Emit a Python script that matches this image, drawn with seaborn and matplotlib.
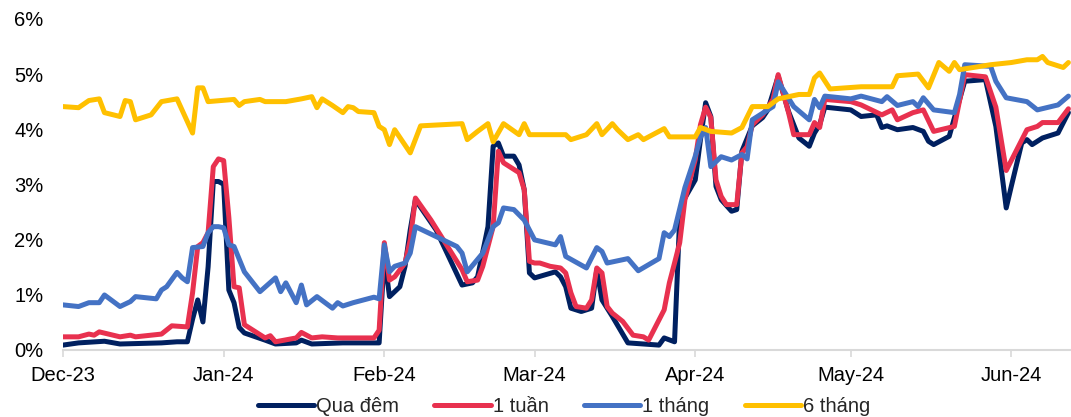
import matplotlib
matplotlib.use("Agg")
import matplotlib.pyplot as plt
import matplotlib.dates as mdates
from matplotlib.ticker import PercentFormatter
import pandas as pd
import seaborn as sns

# Interbank lending rates (%), by tenor
on_dates = [
    "2023-12-01", "2023-12-04", "2023-12-09", "2023-12-12", "2023-12-20", "2023-12-23",
    "2023-12-25", "2023-12-26", "2023-12-27", "2023-12-28", "2023-12-29", "2023-12-30",
    "2023-12-31", "2024-01-01", "2024-01-02", "2024-01-03", "2024-01-04", "2024-01-05",
    "2024-01-09", "2024-01-11", "2024-01-15", "2024-01-16", "2024-01-18", "2024-01-24",
    "2024-01-31", "2024-02-01", "2024-02-02", "2024-02-03", "2024-02-04", "2024-02-05",
    "2024-02-06", "2024-02-07", "2024-02-11", "2024-02-16", "2024-02-18", "2024-02-19",
    "2024-02-21", "2024-02-22", "2024-02-23", "2024-02-24", "2024-02-26", "2024-02-27",
    "2024-02-28", "2024-02-29", "2024-03-01", "2024-03-05", "2024-03-06", "2024-03-07",
    "2024-03-08", "2024-03-10", "2024-03-12", "2024-03-13", "2024-03-14", "2024-03-16",
    "2024-03-19", "2024-03-25", "2024-03-26", "2024-03-28", "2024-03-29", "2024-03-30",
    "2024-04-01", "2024-04-02", "2024-04-03", "2024-04-04", "2024-04-05", "2024-04-06",
    "2024-04-08", "2024-04-09", "2024-04-10", "2024-04-12", "2024-04-14", "2024-04-15",
    "2024-04-17", "2024-04-19", "2024-04-21", "2024-04-23", "2024-04-24", "2024-04-25",
    "2024-04-26", "2024-05-01", "2024-05-03", "2024-05-06", "2024-05-07", "2024-05-08",
    "2024-05-10", "2024-05-13", "2024-05-15", "2024-05-16", "2024-05-17", "2024-05-20",
    "2024-05-23", "2024-05-27", "2024-05-29", "2024-05-31", "2024-06-01", "2024-06-03",
    "2024-06-04", "2024-06-05", "2024-06-07", "2024-06-10", "2024-06-12",
]
on_rates = [
    0.08, 0.12, 0.15, 0.10, 0.12, 0.14,
    0.14, 0.55, 0.90, 0.50, 1.50, 3.05,
    3.05, 3.00, 1.08, 0.85, 0.40, 0.30,
    0.17, 0.10, 0.12, 0.17, 0.10, 0.12,
    0.12, 1.69, 0.96, 1.05, 1.14, 1.51,
    2.17, 2.72, 2.17, 1.17, 1.21, 1.32,
    2.23, 3.69, 3.75, 3.51, 3.51, 3.35,
    2.90, 1.39, 1.30, 1.41, 1.32, 1.14,
    0.75, 0.69, 0.75, 1.45, 0.90, 0.60,
    0.12, 0.08, 0.21, 0.14, 2.41, 2.75,
    3.08, 3.81, 4.48, 4.23, 2.96, 2.72,
    2.51, 2.54, 3.60, 4.06, 4.21, 4.35,
    4.96, 4.32, 3.84, 3.69, 3.93, 4.08,
    4.40, 4.35, 4.23, 4.26, 4.03, 4.06,
    3.99, 4.03, 3.96, 3.78, 3.72, 3.87,
    4.87, 4.90, 4.05, 2.57, 2.97, 3.75,
    3.81, 3.72, 3.84, 3.93, 4.30,
]

w1_dates = [
    "2023-12-01", "2023-12-04", "2023-12-06", "2023-12-07", "2023-12-08", "2023-12-12",
    "2023-12-14", "2023-12-15", "2023-12-20", "2023-12-22", "2023-12-25", "2023-12-26",
    "2023-12-27", "2023-12-28", "2023-12-29", "2023-12-30", "2023-12-31", "2024-01-01",
    "2024-01-02", "2024-01-03", "2024-01-04", "2024-01-05", "2024-01-09", "2024-01-10",
    "2024-01-11", "2024-01-15", "2024-01-16", "2024-01-18", "2024-01-20", "2024-01-23",
    "2024-01-30", "2024-01-31", "2024-02-01", "2024-02-02", "2024-02-03", "2024-02-05",
    "2024-02-06", "2024-02-07", "2024-02-10", "2024-02-16", "2024-02-17", "2024-02-19",
    "2024-02-20", "2024-02-22", "2024-02-23", "2024-02-24", "2024-02-27", "2024-02-28",
    "2024-02-29", "2024-03-01", "2024-03-02", "2024-03-04", "2024-03-06", "2024-03-07",
    "2024-03-08", "2024-03-09", "2024-03-11", "2024-03-12", "2024-03-13", "2024-03-14",
    "2024-03-15", "2024-03-16", "2024-03-18", "2024-03-20", "2024-03-22", "2024-03-23",
    "2024-03-26", "2024-03-27", "2024-03-28", "2024-03-29", "2024-03-30", "2024-04-01",
    "2024-04-02", "2024-04-03", "2024-04-04", "2024-04-05", "2024-04-06", "2024-04-07",
    "2024-04-09", "2024-04-10", "2024-04-11", "2024-04-12", "2024-04-14", "2024-04-16",
    "2024-04-17", "2024-04-19", "2024-04-20", "2024-04-23", "2024-04-24", "2024-04-25",
    "2024-04-26", "2024-05-01", "2024-05-03", "2024-05-07", "2024-05-09", "2024-05-10",
    "2024-05-13", "2024-05-15", "2024-05-17", "2024-05-21", "2024-05-23", "2024-05-27",
    "2024-05-29", "2024-05-31", "2024-06-04", "2024-06-06", "2024-06-07", "2024-06-10",
    "2024-06-12",
]
w1_rates = [
    0.23, 0.23, 0.28, 0.26, 0.32, 0.23,
    0.26, 0.23, 0.28, 0.43, 0.41, 1.03,
    1.87, 1.94, 2.12, 3.32, 3.46, 3.43,
    2.40, 1.14, 1.12, 0.45, 0.21, 0.25,
    0.14, 0.21, 0.31, 0.21, 0.23, 0.21,
    0.21, 0.35, 1.94, 1.26, 1.32, 1.57,
    1.99, 2.75, 2.35, 1.45, 1.23, 1.26,
    1.51, 2.23, 3.60, 3.39, 3.21, 2.90,
    1.60, 1.57, 1.57, 1.51, 1.48, 1.39,
    1.03, 0.78, 0.75, 0.90, 1.48, 1.39,
    0.78, 0.66, 0.51, 0.26, 0.23, 0.17,
    0.72, 1.21, 1.57, 1.94, 2.72, 3.45,
    4.08, 4.40, 4.21, 3.08, 2.78, 2.63,
    2.63, 3.57, 3.68, 4.08, 4.26, 4.54,
    4.99, 4.30, 3.90, 3.90, 4.12, 4.03,
    4.54, 4.50, 4.44, 4.26, 4.35, 4.17,
    4.30, 4.35, 3.96, 4.05, 4.99, 4.95,
    4.40, 3.25, 3.99, 4.05, 4.12, 4.12,
    4.37,
]

m1_dates = [
    "2023-12-01", "2023-12-04", "2023-12-06", "2023-12-08", "2023-12-09", "2023-12-12",
    "2023-12-14", "2023-12-15", "2023-12-19", "2023-12-20", "2023-12-21", "2023-12-23",
    "2023-12-24", "2023-12-25", "2023-12-26", "2023-12-28", "2023-12-29", "2023-12-30",
    "2023-12-31", "2024-01-01", "2024-01-02", "2024-01-03", "2024-01-05", "2024-01-08",
    "2024-01-11", "2024-01-12", "2024-01-13", "2024-01-15", "2024-01-16", "2024-01-17",
    "2024-01-19", "2024-01-22", "2024-01-23", "2024-01-24", "2024-01-26", "2024-01-30",
    "2024-01-31", "2024-02-01", "2024-02-02", "2024-02-03", "2024-02-05", "2024-02-06",
    "2024-02-07", "2024-02-15", "2024-02-16", "2024-02-17", "2024-02-20", "2024-02-22",
    "2024-02-23", "2024-02-24", "2024-02-26", "2024-02-28", "2024-03-01", "2024-03-05",
    "2024-03-06", "2024-03-07", "2024-03-11", "2024-03-13", "2024-03-14", "2024-03-15",
    "2024-03-19", "2024-03-21", "2024-03-23", "2024-03-25", "2024-03-26", "2024-03-27",
    "2024-03-28", "2024-03-30", "2024-04-01", "2024-04-02", "2024-04-03", "2024-04-04",
    "2024-04-06", "2024-04-08", "2024-04-10", "2024-04-11", "2024-04-12", "2024-04-16",
    "2024-04-17", "2024-04-20", "2024-04-23", "2024-04-24", "2024-04-25", "2024-04-26",
    "2024-05-01", "2024-05-03", "2024-05-07", "2024-05-08", "2024-05-10", "2024-05-13",
    "2024-05-14", "2024-05-15", "2024-05-17", "2024-05-21", "2024-05-22", "2024-05-23",
    "2024-05-28", "2024-05-29", "2024-05-31", "2024-06-04", "2024-06-06", "2024-06-10",
    "2024-06-12",
]
m1_rates = [
    0.81, 0.78, 0.85, 0.85, 0.99, 0.78,
    0.87, 0.96, 0.92, 1.08, 1.14, 1.40,
    1.30, 1.23, 1.85, 1.87, 2.12, 2.23,
    2.23, 2.21, 1.90, 1.87, 1.41, 1.05,
    1.30, 1.05, 1.21, 0.85, 1.17, 0.81,
    0.96, 0.75, 0.85, 0.79, 0.85, 0.95,
    0.92, 1.90, 1.41, 1.51, 1.57, 1.75,
    2.23, 1.87, 1.75, 1.41, 1.75, 2.23,
    2.30, 2.57, 2.54, 2.35, 1.99, 1.90,
    2.05, 1.69, 1.48, 1.85, 1.78, 1.57,
    1.65, 1.43, 1.54, 1.65, 2.12, 2.05,
    2.17, 2.94, 3.51, 3.85, 4.03, 3.32,
    3.50, 3.44, 3.54, 3.46, 4.17, 4.41,
    4.86, 4.41, 4.17, 4.54, 4.39, 4.60,
    4.55, 4.60, 4.50, 4.59, 4.43, 4.50,
    4.41, 4.57, 4.35, 4.30, 4.63, 5.17,
    5.14, 4.87, 4.57, 4.50, 4.35, 4.44,
    4.60,
]

m6_dates = [
    "2023-12-01", "2023-12-04", "2023-12-06", "2023-12-08", "2023-12-09", "2023-12-12",
    "2023-12-13", "2023-12-14", "2023-12-15", "2023-12-18", "2023-12-20", "2023-12-23",
    "2023-12-26", "2023-12-27", "2023-12-28", "2023-12-29", "2024-01-03", "2024-01-04",
    "2024-01-05", "2024-01-08", "2024-01-09", "2024-01-13", "2024-01-16", "2024-01-18",
    "2024-01-19", "2024-01-20", "2024-01-22", "2024-01-24", "2024-01-25", "2024-01-26",
    "2024-01-27", "2024-01-30", "2024-01-31", "2024-02-01", "2024-02-02", "2024-02-03",
    "2024-02-06", "2024-02-08", "2024-02-16", "2024-02-17", "2024-02-19", "2024-02-21",
    "2024-02-22", "2024-02-24", "2024-02-27", "2024-02-28", "2024-02-29", "2024-03-04",
    "2024-03-07", "2024-03-08", "2024-03-11", "2024-03-13", "2024-03-14", "2024-03-16",
    "2024-03-17", "2024-03-19", "2024-03-21", "2024-03-22", "2024-03-26", "2024-03-27",
    "2024-04-01", "2024-04-02", "2024-04-04", "2024-04-08", "2024-04-10", "2024-04-12",
    "2024-04-15", "2024-04-17", "2024-04-21", "2024-04-23", "2024-04-24", "2024-04-25",
    "2024-04-27", "2024-05-03", "2024-05-09", "2024-05-10", "2024-05-14", "2024-05-16",
    "2024-05-18", "2024-05-20", "2024-05-21", "2024-05-22", "2024-05-28", "2024-06-01",
    "2024-06-04", "2024-06-06", "2024-06-07", "2024-06-08", "2024-06-11", "2024-06-12",
]
m6_rates = [
    4.41, 4.39, 4.52, 4.55, 4.30, 4.23,
    4.52, 4.50, 4.17, 4.26, 4.50, 4.55,
    3.93, 4.75, 4.75, 4.50, 4.54, 4.43,
    4.50, 4.54, 4.50, 4.50, 4.55, 4.59,
    4.39, 4.55, 4.43, 4.30, 4.41, 4.39,
    4.32, 4.30, 4.05, 3.99, 3.72, 3.99,
    3.57, 4.06, 4.10, 3.81, 3.96, 4.10,
    3.77, 4.10, 3.90, 4.10, 3.90, 3.90,
    3.90, 3.81, 3.90, 4.10, 3.90, 4.10,
    3.99, 3.81, 3.90, 3.81, 4.01, 3.86,
    3.86, 4.03, 3.96, 3.93, 4.03, 4.41,
    4.41, 4.55, 4.63, 4.63, 4.93, 5.02,
    4.73, 4.77, 4.77, 4.97, 5.00, 4.75,
    5.21, 5.05, 5.21, 5.08, 5.17, 5.21,
    5.26, 5.26, 5.32, 5.21, 5.12, 5.21,
]

series_names = ["Qua đêm", "1 tuần", "1 tháng", "6 tháng"]
series_colors = ["#002060", "#E8314F", "#4472C4", "#FFC000"]
month_ticks = ["2023-12-01", "2024-01-01", "2024-02-01", "2024-03-01",
               "2024-04-01", "2024-05-01", "2024-06-01"]
y_ticks = [0, 1, 2, 3, 4, 5, 6]

frames = []
for name, d, v in zip(series_names,
                      [on_dates, w1_dates, m1_dates, m6_dates],
                      [on_rates, w1_rates, m1_rates, m6_rates]):
    frames.append(pd.DataFrame({"date": pd.to_datetime(d), "rate": v, "series": name}))
df = pd.concat(frames, ignore_index=True)

sns.set_theme(style="white")
plt.rcParams["font.family"] = ["Liberation Sans", "DejaVu Sans"]
plt.rcParams["font.size"] = 14.5

fig = plt.figure(figsize=(10.71, 4.17), dpi=100)
ax = fig.add_axes([63 / 1071, 1 - 349.5 / 417, 1 - 63 / 1071, (349.5 - 19) / 417])

sns.lineplot(data=df, x="date", y="rate", hue="series", hue_order=series_names,
             palette=dict(zip(series_names, series_colors)), estimator=None,
             errorbar=None, linewidth=3.6, solid_joinstyle="round",
             solid_capstyle="round", ax=ax)

ax.set_xlim(pd.Timestamp("2023-12-01"), pd.Timestamp("2024-06-12 12:00"))
ax.set_ylim(0, 6)
ax.set_yticks(y_ticks)
ax.yaxis.set_major_formatter(PercentFormatter(xmax=100, decimals=0))
ax.set_xticks(pd.to_datetime(month_ticks))
ax.xaxis.set_major_formatter(mdates.DateFormatter("%b-%y"))
ax.set_xlabel("")
ax.set_ylabel("")

for side in ["left", "right", "top"]:
    ax.spines[side].set_visible(False)
ax.spines["bottom"].set_color("#d9d9d9")
ax.spines["bottom"].set_linewidth(1.5)
ax.tick_params(axis="x", bottom=True, length=5, width=1.2, color="#d9d9d9",
               pad=7, labelsize=14.5, labelcolor="#000000")
ax.tick_params(axis="y", left=False, length=0, pad=14, labelsize=14.5,
               labelcolor="#000000")
ax.grid(False)

sns.move_legend(ax, "center", bbox_to_anchor=(0.497, -0.172), ncol=4, frameon=False,
                title=None, handlelength=2.8, handletextpad=0.1,
                columnspacing=1.75, fontsize=14.5)

fig.savefig("out.png", dpi=100)
